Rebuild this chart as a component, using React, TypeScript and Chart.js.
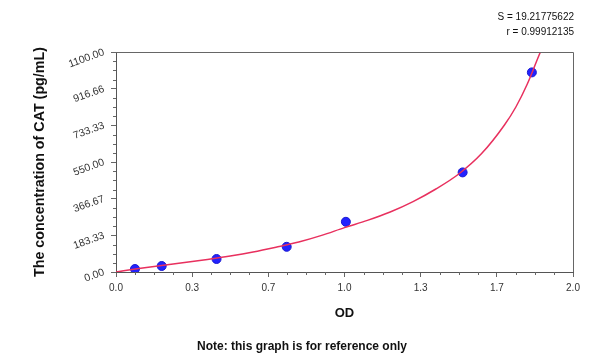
import React, { useEffect, useRef } from "react";
import { Chart, registerables } from "chart.js";

Chart.register(...registerables);

// Measured standards (OD, concentration pg/mL)
const standardOD = [0.083, 0.2, 0.44, 0.747, 1.006, 1.517, 1.82];
const standardConc = [15, 30, 65, 126, 251, 498, 998];

// Fitted curve
const curveOD = [0, 0.1, 0.2, 0.3, 0.4, 0.5, 0.6, 0.7, 0.8, 0.9, 1.0, 1.1, 1.2, 1.3, 1.4, 1.5, 1.6, 1.7, 1.75, 1.8, 1.85, 1.88];
const curveConc = [0, 17, 33, 48, 63, 80, 100, 124, 150, 183, 222, 258, 300, 352, 415, 490, 592, 735, 825, 940, 1080, 1160];

const xTickValues = [0, 1 / 3, 2 / 3, 1, 4 / 3, 5 / 3, 2];
const xTickLabels = ["0.0", "0.3", "0.7", "1.0", "1.3", "1.7", "2.0"];
const yTickValues = [0, 1100 / 6, 2200 / 6, 550, 4400 / 6, 5500 / 6, 1100];
const yTickLabels = ["0.00", "183.33", "366.67", "550.00", "733.33", "916.66", "1100.00"];

const statLines = ["S = 19.21775622", "r = 0.99912135"];
const footerText = "Note: this graph is for reference only";
const xTitle = "OD";
const yTitle = "The concentration of CAT (pg/mL)";

const FONT = "'Liberation Sans', Arial, Helvetica, sans-serif";

const decorPlugin = {
  id: "decor",
  afterDraw(chart: any) {
    const { ctx, chartArea, scales } = chart;
    const xs = scales.x;
    const ys = scales.y;
    ctx.save();
    // frame top and right
    ctx.strokeStyle = "#666";
    ctx.lineWidth = 1;
    ctx.beginPath();
    ctx.moveTo(chartArea.left, chartArea.top + 0.5);
    ctx.lineTo(chartArea.right + 0.5, chartArea.top + 0.5);
    ctx.lineTo(chartArea.right + 0.5, chartArea.bottom);
    ctx.stroke();
    // minor ticks
    ctx.strokeStyle = "#666";
    ctx.beginPath();
    for (let i = 0; i <= 24; i++) {
      if (i % 4 === 0) continue;
      const px = Math.round(xs.getPixelForValue((2 * i) / 24)) + 0.5;
      ctx.moveTo(px, chartArea.bottom);
      ctx.lineTo(px, chartArea.bottom + 3);
      const py = Math.round(ys.getPixelForValue((1100 * i) / 24)) + 0.5;
      ctx.moveTo(chartArea.left, py);
      ctx.lineTo(chartArea.left - 3, py);
    }
    ctx.stroke();
    // stats text
    ctx.fillStyle = "#111";
    ctx.font = `10px ${FONT}`;
    ctx.textAlign = "right";
    ctx.textBaseline = "middle";
    statLines.forEach((t, i) => ctx.fillText(t, chartArea.right + 1, 17 + i * 15));
    // footer
    ctx.font = `bold 12px ${FONT}`;
    ctx.textAlign = "center";
    ctx.fillStyle = "#111";
    ctx.fillText(footerText, 302, 347);
    ctx.restore();
  },
};

export default function App() {
  const ref = useRef<HTMLCanvasElement>(null);
  useEffect(() => {
    if (!ref.current) return;
    const chart = new Chart(ref.current, {
      type: "scatter",
      data: {
        datasets: [
          {
            type: "line",
            label: "fit",
            data: curveOD.map((x, i) => ({ x, y: curveConc[i] })),
            borderColor: "#e8305e",
            borderWidth: 1.5,
            pointRadius: 0,
            fill: false,
            cubicInterpolationMode: "monotone",
            order: 0,
          } as any,
          {
            type: "scatter",
            label: "standards",
            data: standardOD.map((x, i) => ({ x, y: standardConc[i] })),
            backgroundColor: "#2222ff",
            borderColor: "#1a1ad0",
            borderWidth: 1,
            pointRadius: 4.5,
            order: 1,
          } as any,
        ],
      },
      options: {
        responsive: false,
        animation: false,
        layout: { padding: { left: 0, right: 27, top: 52, bottom: 30 } },
        plugins: {
          legend: { display: false },
          tooltip: { enabled: false },
          title: { display: false },
        },
        scales: {
          x: {
            type: "linear",
            min: 0,
            max: 2,
            afterBuildTicks: (s: any) => {
              s.ticks = xTickValues.map((v) => ({ value: v }));
            },
            afterFit: (s: any) => {
              s.height = 56;
            },
            ticks: {
              callback: (_v: any, i: number) => xTickLabels[i],
              color: "#333",
              font: { size: 10, family: FONT },
              padding: 5,
              maxRotation: 0,
              autoSkip: false,
            },
            grid: { drawOnChartArea: false, drawTicks: true, tickLength: 5, color: "#666" },
            border: { display: true, color: "#555" },
            title: {
              display: true,
              text: xTitle,
              color: "#111",
              font: { size: 13, weight: "bold", family: FONT },
              padding: { top: 0, bottom: 7 },
            },
          },
          y: {
            type: "linear",
            min: 0,
            max: 1100,
            afterBuildTicks: (s: any) => {
              s.ticks = yTickValues.map((v) => ({ value: v }));
            },
            afterFit: (s: any) => {
              s.width = 116;
            },
            ticks: {
              callback: (_v: any, i: number) => yTickLabels[i],
              color: "#333",
              font: { size: 10.5, family: FONT },
              padding: 7,
              minRotation: 20,
              maxRotation: 20,
              autoSkip: false,
            },
            grid: { drawOnChartArea: false, drawTicks: true, tickLength: 5, color: "#666" },
            border: { display: true, color: "#555" },
            title: {
              display: true,
              text: yTitle,
              color: "#111",
              font: { size: 14.3, weight: "bold", family: FONT },
              padding: { top: 31, bottom: 0 },
            },
          },
        },
      },
      plugins: [decorPlugin],
    });
    return () => chart.destroy();
  }, []);
  return (
    <div style={{ position: "fixed", left: 0, top: 0, width: 600, height: 358, background: "#fff" }}>
      <canvas ref={ref} width={600} height={358} />
    </div>
  );
}
